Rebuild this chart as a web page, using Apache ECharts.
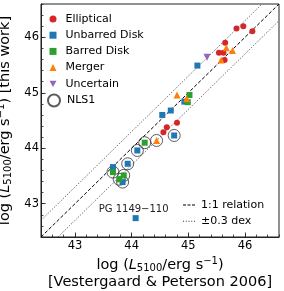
<!DOCTYPE html>
<html>
<head>
<meta charset="utf-8">
<script src="https://cdn.jsdelivr.net/npm/echarts@6/dist/echarts.min.js"></script>
<style>html,body{margin:0;padding:0;background:#fff}#c{width:284px;height:291px}</style>
</head>
<body>
<div id="c"></div>
<script>
// ---- data ----
var ellipticalX = [45.97, 45.85, 46.13, 45.65, 45.54, 45.62, 45.64, 44.56, 44.62, 44.80];
var ellipticalY = [46.20, 46.16, 46.11, 45.90, 45.72, 45.72, 45.59, 44.29, 44.38, 44.46];
var unbarredX = [45.16, 44.54, 44.69, 44.93, 44.75, 44.10, 43.93, 43.67, 43.84, 44.07];
var unbarredY = [45.49, 44.60, 44.68, 44.84, 44.23, 43.96, 43.72, 43.66, 43.39, 42.74];
var barredX = [45.02, 44.99, 44.23, 43.67, 43.86, 43.78];
var barredY = [44.96, 44.83, 44.10, 43.57, 43.51, 43.44];
var mergerX = [45.67, 45.78, 45.58, 44.80, 44.97, 44.44];
var mergerY = [45.81, 45.76, 45.59, 44.96, 44.89, 44.14];
var uncertainX = [45.33];
var uncertainY = [45.64];
var nls1X = [44.44, 44.23, 44.10, 43.93, 44.75, 43.67, 43.86, 43.84, 43.78];
var nls1Y = [44.14, 44.10, 43.96, 43.72, 44.23, 43.57, 43.51, 43.39, 43.44];
var labelledName = 'PG 1149\u2212110';
var labelledIndex = 9; // index in unbarred arrays
var axisMin = 42.4, axisMax = 46.6;
var majorTicks = [43, 44, 45, 46];
var minorStep = 0.2;
var dexOffset = 0.3;

function pts(xs, ys) { return xs.map(function (x, i) { return [x, ys[i]]; }); }

var unbarredData = pts(unbarredX, unbarredY).map(function (p, i) {
  if (i === labelledIndex) {
    return { value: p, label: { show: true, formatter: labelledName, position: 'top', distance: 1,
      offset: [-2, 0], fontSize: 10, color: '#222', fontFamily: 'DejaVu Sans' } };
  }
  return p;
});

var FF = 'DejaVu Sans';
var nameRich = {
  n: { fontSize: 14.5, fontFamily: FF, color: '#000', lineHeight: 17 },
  i: { fontSize: 14.5, fontFamily: FF, color: '#000', fontStyle: 'italic', lineHeight: 17 },
  s: { fontSize: 10, fontFamily: FF, color: '#000', lineHeight: 10, verticalAlign: 'bottom' },
  p: { fontSize: 10, fontFamily: FF, color: '#000', lineHeight: 10, verticalAlign: 'top' }
};
var lumName = '{n|log (}{i|L}{s|5100}{n|/erg s}{p|\u22121}{n|)}';

function baseAxis(extra) {
  var a = {
    type: 'value', min: axisMin, max: axisMax, interval: minorStep,
    splitLine: { show: false },
    axisLine: { show: true, onZero: false, lineStyle: { color: '#222', width: 1 } },
    axisTick: { show: true, inside: true, length: 2.5, lineStyle: { color: '#222', width: 0.8 } },
    axisLabel: { show: true, customValues: majorTicks, fontSize: 11.5, fontFamily: FF, color: '#000', margin: 3 }
  };
  for (var k in extra) a[k] = extra[k];
  return a;
}
function majorAxis(pos) {
  return {
    type: 'value', min: axisMin, max: axisMax, interval: minorStep, position: pos,
    splitLine: { show: false },
    axisLine: { show: false, onZero: false },
    axisTick: { show: true, inside: true, length: 4.5, customValues: majorTicks, lineStyle: { color: '#222', width: 0.9 } },
    axisLabel: { show: false }
  };
}

var mk = function (name, data, symbol, size, color, extra) {
  var s = {
    name: name, type: 'scatter', data: data, symbol: symbol, symbolSize: size,
    itemStyle: { color: color, opacity: 1 }, xAxisIndex: 0, yAxisIndex: 0, z: 3
  };
  for (var k in extra) s[k] = extra[k];
  return s;
};

var dashIcon = 'path://M0,0h3v1h-3zM4.5,0h3v1h-3zM9,0h3v1h-3z';
var dotIcon = 'path://M0,0h1v1h-1zM2.75,0h1v1h-1zM5.5,0h1v1h-1zM8.25,0h1v1h-1zM11,0h1v1h-1z';
var downTriangle = 'path://M0,0L10,0L5,9Z';

var legendText = { fontSize: 11, fontFamily: FF, color: '#000', lineHeight: 14 };

var option = {
  animation: false,
  backgroundColor: '#fff',
  grid: { left: 41, right: 5, top: 4, bottom: 54, show: true, borderColor: '#222', borderWidth: 1,
    backgroundColor: 'transparent', containLabel: false, outerBoundsMode: 'none' },
  xAxis: [
    baseAxis({ position: 'bottom', name: lumName + '\n{n|[Vestergaard & Peterson 2006]}',
      nameLocation: 'middle', nameGap: 17, nameTextStyle: { rich: nameRich, align: 'center' } }),
    majorAxis('bottom')
  ],
  yAxis: [
    baseAxis({ position: 'left', axisLabel: { show: true, customValues: majorTicks, fontSize: 11.5, fontFamily: FF, color: '#000', margin: 2 },
      name: lumName + '{n| [this work]}', nameLocation: 'middle', nameGap: 20, nameTextStyle: { rich: nameRich } }),
    majorAxis('left')
  ],
  legend: [
    {
      data: ['Elliptical', 'Unbarred Disk', 'Barred Disk', 'Merger', 'Uncertain'],
      orient: 'vertical', left: 49.5, top: 12, padding: 0, itemWidth: 7, itemHeight: 7, itemGap: 2.2,
      textStyle: Object.assign({ padding: [0, 0, 0, 4] }, legendText)
    },
    {
      data: ['NLS1'], orient: 'vertical', left: 47, top: 93.5, padding: 0, itemWidth: 12, itemHeight: 12,
      textStyle: Object.assign({ padding: [0, 0, 0, 2] }, legendText)
    },
    {
      data: [{ name: '1:1 relation', icon: dashIcon }, { name: '\u00b10.3 dex', icon: dotIcon }],
      orient: 'vertical', left: 183, top: 198, padding: 0,
      itemWidth: 12, itemHeight: 1, itemGap: 2.2,
      textStyle: Object.assign({ padding: [0, 0, 0, 1] }, legendText)
    }
  ],
  series: [
    { name: '1:1 relation', type: 'line', symbol: 'none', silent: true, z: 1,
      data: [[axisMin, axisMin], [axisMax, axisMax]],
      lineStyle: { color: '#000', width: 1, type: [3.5, 2] }, itemStyle: { color: '#000' } },
    { name: '\u00b10.3 dex', type: 'line', symbol: 'none', silent: true, z: 1,
      data: [[axisMin, axisMin + dexOffset], [axisMax - dexOffset, axisMax]],
      lineStyle: { color: '#333', width: 0.9, type: [1, 1.6] }, itemStyle: { color: '#333' } },
    { name: '\u00b10.3 dex', type: 'line', symbol: 'none', silent: true, z: 1,
      data: [[axisMin + dexOffset, axisMin], [axisMax, axisMax - dexOffset]],
      lineStyle: { color: '#333', width: 0.9, type: [1, 1.6] }, itemStyle: { color: '#333' } },
    mk('NLS1', pts(nls1X, nls1Y), 'circle', 12, 'transparent',
      { itemStyle: { color: 'rgba(0,0,0,0)', borderColor: '#333', borderWidth: 1 }, z: 2 }),
    mk('Elliptical', pts(ellipticalX, ellipticalY), 'circle', 6, '#d62728'),
    mk('Unbarred Disk', unbarredData, 'rect', 6, '#1f77b4'),
    mk('Barred Disk', pts(barredX, barredY), 'rect', 6, '#2ca02c'),
    mk('Merger', pts(mergerX, mergerY), 'triangle', 7, '#ff7f0e'),
    mk('Uncertain', pts(uncertainX, uncertainY), downTriangle, 7, '#9467bd')
  ]
};

var chart = echarts.init(document.getElementById('c'), null, { renderer: 'canvas' });
chart.setOption(option);
</script>
</body>
</html>
